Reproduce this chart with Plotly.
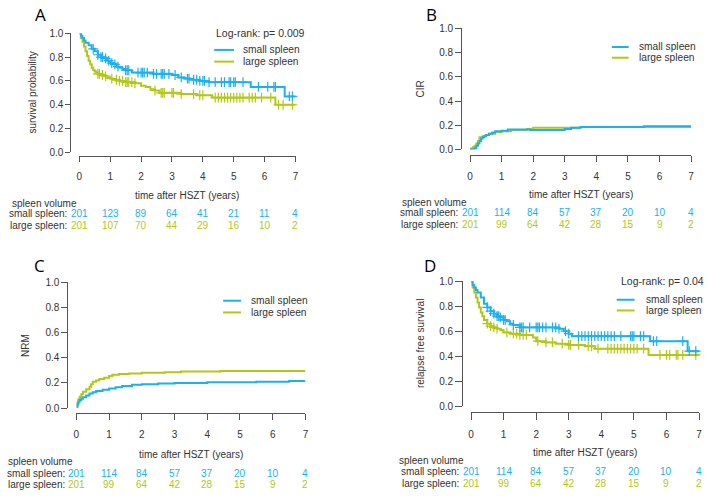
import numpy as np
import plotly.graph_objects as go

W, H = 708, 498
BLUE = '#1CB0EE'
GREEN = '#B3C717'
AXC = '#555555'
TXT = '#333333'
FONT = 'Liberation Sans, Arial, sans-serif'

# ---------------- data ----------------
years = [0, 1, 2, 3, 4, 5, 6, 7]
groups = ['small spleen', 'large spleen']

# A: overall survival
A_small_t = [0, 0.05, 0.1, 0.15, 0.2, 0.3, 0.4, 0.5, 0.6, 0.7, 0.8, 0.9, 1.0, 1.1, 1.2, 1.3, 1.4, 1.5, 1.7,
             2.4, 3.0, 3.2, 3.4, 3.6, 3.9, 4.2, 5.55, 6.65, 7.0]
A_small_s = [1.0, 0.98, 0.96, 0.94, 0.92, 0.90, 0.87, 0.85, 0.82, 0.80, 0.79, 0.77, 0.75, 0.74, 0.72, 0.71, 0.70,
             0.69, 0.67, 0.66, 0.65, 0.63, 0.62, 0.61, 0.60, 0.59, 0.55, 0.47, 0.47]
A_large_t = [0, 0.05, 0.1, 0.15, 0.2, 0.25, 0.3, 0.35, 0.4, 0.45, 0.5, 0.55, 0.6, 0.7, 0.8, 0.9, 1.0, 1.1, 1.3,
             1.5, 1.8, 2.0, 2.15, 2.3, 2.45, 2.6, 3.3, 3.8, 4.3, 6.35, 7.0]
A_large_s = [1.0, 0.96, 0.93, 0.89, 0.85, 0.81, 0.77, 0.74, 0.71, 0.69, 0.68, 0.67, 0.66, 0.65, 0.64, 0.63, 0.62,
             0.61, 0.60, 0.59, 0.58, 0.56, 0.55, 0.53, 0.52, 0.50, 0.49, 0.48, 0.46, 0.40, 0.40]
A_small_cens = [0.45, 0.6, 0.7, 0.75, 0.85, 0.95, 1.05, 1.15, 1.25, 1.5, 1.55, 1.6, 1.9, 2.0, 2.05, 2.1, 2.2, 2.4,
                2.5, 2.65, 2.7, 2.75, 2.9, 3.1, 3.3, 3.5, 3.55, 3.7, 3.8, 3.9, 4.0, 4.05, 4.2, 4.4, 4.6, 4.7,
                4.85, 4.9, 5.0, 5.05, 5.3, 5.8, 6.1, 6.3, 6.35, 6.8, 6.9]
A_large_cens = [0.6, 0.65, 0.75, 0.85, 1.05, 1.2, 1.3, 1.4, 1.5, 1.55, 1.6, 1.7, 1.8, 2.45, 2.65, 2.7, 2.75, 3.0,
                3.05, 3.3, 3.7, 3.9, 4.0, 4.4, 4.5, 4.6, 4.7, 4.8, 4.9, 5.0, 5.1, 5.2, 5.3, 5.5, 5.6, 5.7, 5.9,
                6.2, 6.45, 6.6, 6.9]
A_risk_small = [201, 123, 89, 64, 41, 21, 11, 4]
A_risk_large = [201, 107, 70, 44, 29, 16, 10, 2]

# B: cumulative incidence of relapse
B_small_t = [0, 0.1, 0.15, 0.2, 0.25, 0.3, 0.35, 0.4, 0.45, 0.5, 0.6, 0.7, 0.8, 1.0, 1.2, 1.9, 3.0, 3.2, 3.5,
             5.5, 7.0]
B_small_s = [0, 0, 0.01, 0.03, 0.05, 0.07, 0.09, 0.10, 0.11, 0.12, 0.13, 0.14, 0.15, 0.155, 0.165, 0.16, 0.17,
             0.18, 0.185, 0.187, 0.187]
B_large_t = [0, 0.05, 0.1, 0.15, 0.2, 0.25, 0.3, 0.4, 0.5, 0.6, 0.8, 1.0, 1.3, 1.8, 2.0, 3.5, 5.5, 7.0]
B_large_s = [0, 0.01, 0.02, 0.03, 0.05, 0.07, 0.10, 0.11, 0.12, 0.13, 0.145, 0.15, 0.16, 0.17, 0.18, 0.185,
             0.193, 0.193]
B_risk_small = [201, 114, 84, 57, 37, 20, 10, 4]
B_risk_large = [201, 99, 64, 42, 28, 15, 9, 2]

# C: non-relapse mortality
C_small_t = [0, 0.03, 0.06, 0.1, 0.15, 0.2, 0.3, 0.4, 0.5, 0.6, 0.8, 1.0, 1.2, 1.4, 1.7, 2.0, 2.5, 3.0, 4.0,
             5.5, 6.5, 7.0]
C_small_s = [0.01, 0.03, 0.05, 0.065, 0.075, 0.085, 0.10, 0.115, 0.125, 0.135, 0.145, 0.155, 0.165, 0.175,
             0.185, 0.19, 0.195, 0.20, 0.205, 0.21, 0.215, 0.215]
C_large_t = [0, 0.03, 0.06, 0.1, 0.15, 0.2, 0.3, 0.4, 0.45, 0.5, 0.6, 0.7, 0.85, 1.0, 1.1, 1.3, 1.6, 2.0, 2.7,
             3.2, 4.4, 7.0]
C_large_s = [0.01, 0.04, 0.07, 0.09, 0.11, 0.13, 0.15, 0.17, 0.19, 0.21, 0.22, 0.23, 0.24, 0.255, 0.265, 0.27,
             0.275, 0.28, 0.285, 0.29, 0.295, 0.295]
C_risk_small = [201, 114, 84, 57, 37, 20, 10, 4]
C_risk_large = [201, 99, 64, 42, 28, 15, 9, 2]

# D: relapse free survival
D_small_t = [0, 0.05, 0.1, 0.15, 0.2, 0.3, 0.4, 0.5, 0.6, 0.7, 0.8, 0.9, 1.0, 1.1, 1.2, 1.3, 1.5, 2.7, 2.85,
             3.0, 3.1, 5.5, 6.65, 7.0]
D_small_s = [1.0, 0.97, 0.95, 0.93, 0.91, 0.87, 0.82, 0.79, 0.76, 0.74, 0.72, 0.71, 0.69, 0.68, 0.66, 0.65,
             0.63, 0.62, 0.60, 0.58, 0.56, 0.52, 0.44, 0.44]
D_large_t = [0, 0.05, 0.1, 0.15, 0.2, 0.25, 0.3, 0.35, 0.4, 0.5, 0.6, 0.7, 0.8, 0.9, 1.0, 1.2, 1.5, 1.9, 2.0,
             2.3, 2.6, 3.0, 3.5, 3.8, 5.45, 7.0]
D_large_s = [1.0, 0.95, 0.91, 0.87, 0.83, 0.79, 0.75, 0.72, 0.69, 0.66, 0.64, 0.63, 0.62, 0.61, 0.59, 0.58,
             0.57, 0.55, 0.52, 0.51, 0.50, 0.49, 0.48, 0.46, 0.41, 0.41]
D_small_cens = [0.5, 0.6, 0.7, 0.8, 0.85, 0.9, 1.0, 1.05, 1.3, 1.5, 1.55, 1.6, 1.8, 2.0, 2.05, 2.1, 2.2, 2.3,
                2.5, 2.6, 2.7, 2.9, 3.0, 3.3, 3.4, 3.5, 3.6, 3.7, 3.8, 3.9, 4.0, 4.1, 4.2, 4.3, 4.4, 4.6, 4.9,
                4.95, 5.0, 5.2, 5.3, 5.6, 5.7, 6.5, 6.7, 6.9]
D_large_cens = [0.5, 0.6, 0.7, 0.8, 1.1, 1.3, 1.4, 1.5, 1.6, 1.7, 2.05, 2.3, 2.5, 2.8, 3.0, 3.05, 3.3, 3.6,
                3.7, 3.9, 4.2, 4.3, 4.4, 4.5, 4.6, 4.7, 4.8, 4.9, 5.0, 5.1, 5.3, 5.8, 6.0, 6.1, 6.3, 6.35, 6.5,
                6.9]
D_risk_small = [201, 114, 84, 57, 37, 20, 10, 4]
D_risk_large = [201, 99, 64, 42, 28, 15, 9, 2]

panel_letters = ['A', 'B', 'C', 'D']
y_titles = ['survival probability', 'CIR', 'NRM', 'relapse free survival']
logrank = ['Log-rank: p= 0.009', None, None, 'Log-rank: p= 0.04']
x_title = 'time after HSZT (years)'
y_ticks = [0.0, 0.2, 0.4, 0.6, 0.8, 1.0]

# ---------------- layout geometry (pixels) ----------------
P = [
    dict(x0=77, x1=295, y0=28, y1=150, yax=68, xax=154, tl=5, xt=194, ytx=30, vol=(7, 202), lab=67,
         r1=213, r2=225, letter=(38, 9), lr=(213, 28), leg=(213, 233, 240, 45, 57)),
    dict(x0=471, x1=694, y0=23, y1=147, yax=462, xax=153, tl=6, xt=193, ytx=422, vol=(400, 201), lab=461,
         r1=212, r2=224, letter=(432, 9), lr=None, leg=(614, 631, 639, 42, 53)),
    dict(x0=74, x1=305, y0=283, y1=412, yax=65, xax=417, tl=6, xt=460, ytx=22, vol=(3, 467), lab=65,
         r1=479, r2=490, letter=(37, 266), lr=None, leg=(222, 240, 248, 302, 314)),
    dict(x0=472, x1=702, y0=282, y1=410, yax=463, xax=416, tl=7, xt=458, ytx=421, vol=(397, 466), lab=462,
         r1=477, r2=489, letter=(431, 266), lr=(621, 282), leg=(619, 637, 646, 301, 312)),
]


def fx(px):
    return px / W


def fy(py):
    return 1 - py / H


def step_at(t, s, c):
    t = np.asarray(t)
    s = np.asarray(s)
    idx = np.searchsorted(t, np.asarray(c), side='right') - 1
    return s[idx]


curves = [
    ((A_small_t, A_small_s, A_small_cens), (A_large_t, A_large_s, A_large_cens), A_risk_small, A_risk_large),
    ((B_small_t, B_small_s, None), (B_large_t, B_large_s, None), B_risk_small, B_risk_large),
    ((C_small_t, C_small_s, None), (C_large_t, C_large_s, None), C_risk_small, C_risk_large),
    ((D_small_t, D_small_s, D_small_cens), (D_large_t, D_large_s, D_large_cens), D_risk_small, D_risk_large),
]

fig = go.Figure()
annotations = []
shapes = []

for i, (p, (cs, cl, rs, rl)) in enumerate(zip(P, curves)):
    n = '' if i == 0 else str(i + 1)
    xa, ya = 'x' + n, 'y' + n
    for (t, s, cens), col, name in [(cl, GREEN, groups[1]), (cs, BLUE, groups[0])]:
        fig.add_trace(go.Scatter(x=t, y=s, mode='lines', line=dict(color=col, width=2, shape='hv'),
                                 name=name, xaxis=xa, yaxis=ya, showlegend=False, hoverinfo='skip'))
        if cens is not None:
            fig.add_trace(go.Scatter(x=cens, y=step_at(t, s, cens), mode='markers',
                                     marker=dict(symbol='cross-thin-open', size=7, color=col,
                                                 line=dict(color=col, width=1.2)),
                                     xaxis=xa, yaxis=ya, showlegend=False, hoverinfo='skip',
                                     cliponaxis=False))
    common_font = dict(family=FONT, size=10, color=TXT)
    fig.layout['xaxis' + n] = dict(domain=[fx(p['x0']), fx(p['x1'])], range=[0, 7], anchor='free',
                                   position=fy(p['xax']), showgrid=False, zeroline=False, showline=True,
                                   linecolor=AXC, linewidth=1, ticks='outside', ticklen=p['tl'],
                                   tickcolor=AXC, tickvals=years, tickfont=common_font,
                                   ticklabelstandoff=6, fixedrange=True)
    fig.layout['yaxis' + n] = dict(domain=[fy(p['y1']), fy(p['y0'])], range=[0, 1], anchor='free',
                                   position=fx(p['yax']), showgrid=False, zeroline=False, showline=True,
                                   linecolor=AXC, linewidth=1, ticks='outside', ticklen=p['tl'],
                                   tickcolor=AXC, tickvals=y_ticks, ticktext=['%.1f' % v for v in y_ticks],
                                   tickfont=common_font, fixedrange=True)
    annotations.append(dict(text=x_title, x=(fx(p['x0']) + fx(p['x1'])) / 2, y=fy(p['xt']), xref='paper',
                            yref='paper', showarrow=False, xanchor='center', yanchor='middle',
                            font=dict(family=FONT, size=10, color=TXT)))
    annotations.append(dict(text=y_titles[i], x=fx(p['ytx']), y=(fy(p['y0']) + fy(p['y1'])) / 2,
                            xref='paper', yref='paper', showarrow=False, textangle=-90,
                            xanchor='center', yanchor='middle', font=dict(family=FONT, size=10, color=TXT)))
    annotations.append(dict(text=panel_letters[i], x=fx(p['letter'][0]), y=fy(p['letter'][1]), xref='paper',
                            yref='paper', showarrow=False, xanchor='center', yanchor='middle',
                            font=dict(family='Open Sans, sans-serif', size=17, color='black')))
    annotations.append(dict(text='spleen volume', x=fx(p['vol'][0]), y=fy(p['vol'][1]), xref='paper',
                            yref='paper', showarrow=False, xanchor='left', yanchor='middle',
                            font=dict(family=FONT, size=10, color=TXT)))
    for g, row, py, col in [(groups[0], rs, p['r1'], BLUE), (groups[1], rl, p['r2'], GREEN)]:
        annotations.append(dict(text=g + ':', x=fx(p['lab']), y=fy(py), xref='paper', yref='paper',
                                showarrow=False, xanchor='right', yanchor='middle',
                                font=dict(family=FONT, size=10, color=TXT)))
        for yr, v in zip(years, row):
            annotations.append(dict(text=str(v), x=yr, y=fy(py), xref=xa, yref='paper', showarrow=False,
                                    xanchor='center', yanchor='middle',
                                    font=dict(family=FONT, size=10, color=col)))
    if logrank[i]:
        annotations.append(dict(text=logrank[i], x=fx(p['lr'][0]), y=fy(p['lr'][1]), xref='paper',
                                yref='paper', showarrow=False, xanchor='left', yanchor='middle',
                                font=dict(family=FONT, size=10.5, color=TXT)))
    lx0, lx1, tx, ly1, ly2 = p['leg']
    for g, ly, col in [(groups[0], ly1, BLUE), (groups[1], ly2, GREEN)]:
        shapes.append(dict(type='line', xref='paper', yref='paper', x0=fx(lx0), x1=fx(lx1), y0=fy(ly),
                           y1=fy(ly), line=dict(color=col, width=2)))
        annotations.append(dict(text=g, x=fx(tx), y=fy(ly), xref='paper', yref='paper', showarrow=False,
                                xanchor='left', yanchor='middle',
                                font=dict(family=FONT, size=10.2, color=TXT)))

fig.update_layout(width=W, height=H, autosize=False, margin=dict(l=0, r=0, t=0, b=0),
                  paper_bgcolor='white', plot_bgcolor='white', showlegend=False,
                  annotations=annotations, shapes=shapes, font=dict(family=FONT, color=TXT))

fig.write_html('out.html', config={'displayModeBar': False},
               post_script="document.body.style.margin='0';document.body.style.padding='0';"
                           "document.body.style.overflow='hidden';")
